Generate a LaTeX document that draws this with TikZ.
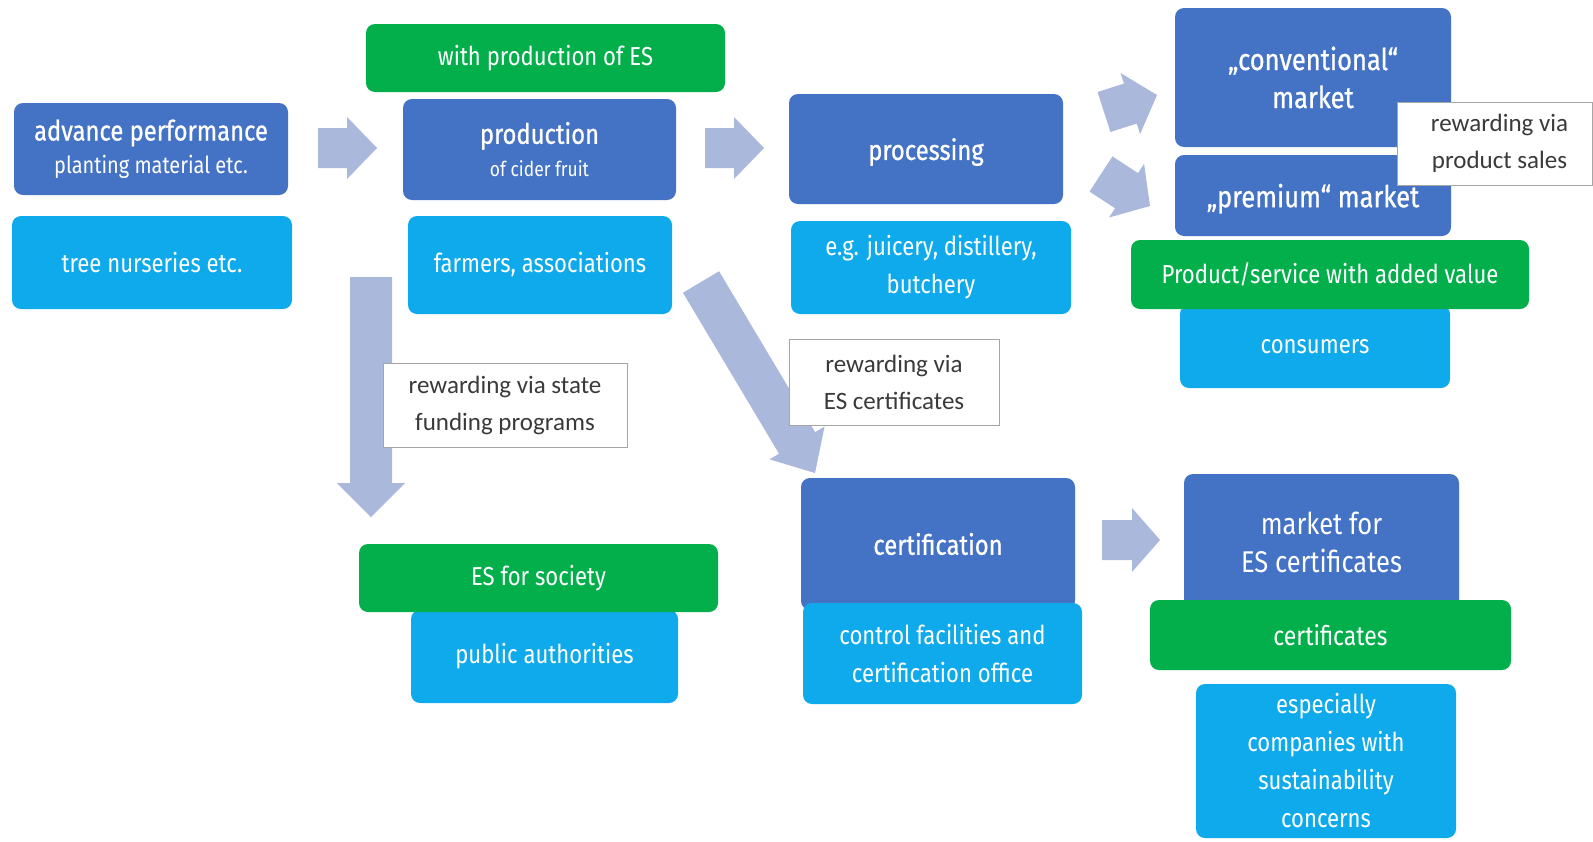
\documentclass[tikz,border=0pt]{standalone}
\usepackage{fontspec}
\setmainfont[FakeStretch=0.85]{Fira Sans}
\newfontfamily\titlefont[FakeStretch=0.85,FakeBold=0.8]{Fira Sans}
\newfontfamily\notefont{Carlito}
\usetikzlibrary{calc}
\definecolor{dblue}{HTML}{4472C4}
\definecolor{lblue}{HTML}{0FAAEB}
\definecolor{egreen}{HTML}{03AF4B}
\definecolor{arrowfill}{HTML}{AAB8DC}
\definecolor{notetext}{HTML}{3A3A3A}
\newcommand{\blockarrow}[5]{%
  \coordinate (ba-n) at ($(#2)!#5pt!(#1)$);
  \fill[arrowfill] ($(#1)!#3pt!90:(#2)$) -- ($(ba-n)!#3pt!90:(#2)$) -- ($(ba-n)!#4pt!90:(#2)$) -- (#2)
    -- ($(ba-n)!#4pt!-90:(#2)$) -- ($(ba-n)!#3pt!-90:(#2)$) -- ($(#1)!#3pt!-90:(#2)$) -- cycle;}
\tikzset{
  box/.style={rounded corners=9pt, inner sep=0pt, align=center, text=white,
    font=\fontsize{26}{38}\selectfont},
  darkbox/.style={box, fill=dblue, font=\titlefont\fontsize{28}{38}\selectfont},
  lightbox/.style={box, fill=lblue},
  greenbox/.style={box, fill=egreen},
  notebox/.style={fill=white, draw=black!35, line width=0.8pt, inner sep=0pt, align=center,
    text=notetext, font=\notefont\fontsize{25}{37}\selectfont},
}
\begin{document}
\begin{tikzpicture}[x=1pt, y=-1pt]
\fill[white] (0,0) rectangle (1593,841);
\useasboundingbox (0,0) rectangle (1593,841);

% arrows
\coordinate (a1s) at (318,148); \coordinate (a1e) at (377,148);
\blockarrow{a1s}{a1e}{20}{31}{30}
\coordinate (a2s) at (705,148); \coordinate (a2e) at (764,148);
\blockarrow{a2s}{a2e}{20}{31}{30}
\coordinate (a3s) at (1104,112); \coordinate (a3e) at (1157,95);
\blockarrow{a3s}{a3e}{21}{32}{28}
\coordinate (a4s) at (1101,174); \coordinate (a4e) at (1150,206);
\blockarrow{a4s}{a4e}{21}{32}{28}
\coordinate (a5s) at (371,277); \coordinate (a5e) at (371,517);
\blockarrow{a5s}{a5e}{21}{34}{34}
\coordinate (a6s) at (701,282); \coordinate (a6e) at (815,473);
\blockarrow{a6s}{a6e}{21}{32}{35}
\coordinate (a7s) at (1102,540); \coordinate (a7e) at (1160,540);
\blockarrow{a7s}{a7e}{20}{32}{28}

% column 1
\node[darkbox, minimum width=274pt, minimum height=92pt] (adv) at (151,149)
  {advance performance\\[-5pt]{\rmfamily\fontsize{23.5}{30}\selectfont planting material etc.}};
\node[lightbox, minimum width=280pt, minimum height=93pt] (tree) at (152,262.5) {tree nurseries etc.};

% column 2
\node[greenbox, minimum width=359pt, minimum height=68pt] (withes) at (545.5,58) {with production of ES};
\node[darkbox, minimum width=273pt, minimum height=101pt] (prod) at (539.5,149.5)
  {production\\[-5pt]{\rmfamily\fontsize{20.5}{28}\selectfont of cider fruit}};
\node[lightbox, minimum width=264pt, minimum height=98pt] (farm) at (540,265) {farmers, associations};

% column 3
\node[darkbox, minimum width=274pt, minimum height=110pt, text depth=-10pt] (proc) at (926,149) {processing};
\node[lightbox, minimum width=280pt, minimum height=93pt] (juice) at (931,267.5) {e.g. juicery, distillery,\\butchery};

% column 4 top
\node[darkbox, minimum width=276pt, minimum height=139pt, font=\titlefont\fontsize{30}{38}\selectfont] (conv) at (1313,77.5) {„conventional“\\market};
\node[darkbox, minimum width=276pt, minimum height=81pt, font=\titlefont\fontsize{30}{38}\selectfont, text depth=-6pt] (prem) at (1313,195.5) {„premium“ market};
\node[lightbox, minimum width=270pt, minimum height=83pt] (cons) at (1315,346.5) {consumers};
\node[greenbox, minimum width=398pt, minimum height=69pt] (prodserv) at (1330,274.5) {Product/service with added value};
\node[notebox, minimum width=195pt, minimum height=83pt] (sales) at (1494.5,143.5) {\hspace*{10pt}rewarding via\\\hspace*{10pt}product sales};

% lower middle
\node[lightbox, minimum width=267pt, minimum height=93pt] (public) at (544.5,656.5) {public authorities};
\node[greenbox, minimum width=359pt, minimum height=68pt] (society) at (538.5,578) {ES for society};
\node[darkbox, minimum width=274pt, minimum height=132pt] (cert) at (938,544) {certification};
\node[lightbox, minimum width=279pt, minimum height=101pt] (control) at (942.5,653.5) {control facilities and\\certification office};

% lower right
\node[darkbox, minimum width=275pt, minimum height=136pt, font=\rmfamily\fontsize{30}{38}\selectfont] (mkt) at (1321.5,542) {market for\\ES certificates};
\node[greenbox, minimum width=361pt, minimum height=70pt, font=\fontsize{27}{38}\selectfont] (certs) at (1330.5,635) {certificates};
\node[lightbox, minimum width=260pt, minimum height=154pt] (esp) at (1326,761)
  {especially\\companies with\\sustainability\\concerns};

% notes
\node[notebox, minimum width=244pt, minimum height=84pt] (state) at (505,405) {rewarding via state\\funding programs};
\node[notebox, minimum width=210pt, minimum height=86pt] (escert) at (894,382) {rewarding via\\ES certificates};
\end{tikzpicture}
\end{document}
